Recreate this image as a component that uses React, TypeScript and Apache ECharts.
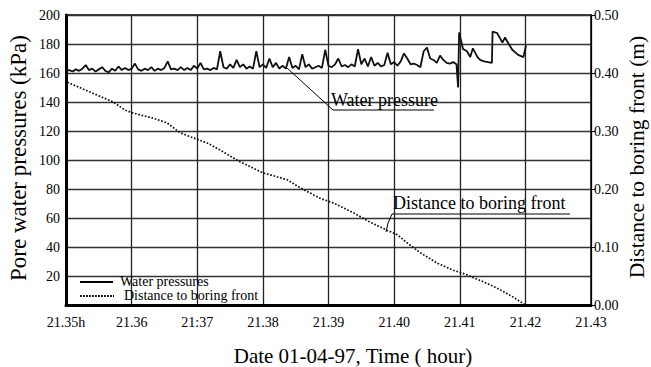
import React, { useEffect, useRef } from "react";
import * as echarts from "echarts";

// X tick labels (hours), as printed on the original figure
const xTickLabels = ["21.35h", "21.36", "21:37", "21.38", "21.39", "21.40", "21.41", "21.42", "21.43"];

// Water pressure (kPa), sampled every 0.0005 h from 21.35 h
const pressureStart = 21.35;
const pressureStep = 0.0005;
const pressureValues = [
  161.5, 162, 161, 162.5, 161.5, 163, 165.5, 162, 163, 161,
  162.5, 164, 161.5, 160.5, 163, 161.5, 164.5, 162, 163.5, 162,
  163, 166.5, 162.5, 161.5, 163, 162, 164, 161.5, 163, 162,
  163.5, 168, 162.5, 163, 162, 164, 162, 163.5, 162, 165,
  163, 167, 162.5, 163, 162, 163.5, 162.5, 175, 164, 163,
  166, 163.5, 169, 164, 166, 163, 164.5, 163, 175, 164,
  166, 163.5, 170, 164, 167, 163, 165, 163, 171, 163.5,
  165, 162.5, 173, 164, 166, 163, 164, 165, 163.5, 176,
  165, 164, 166, 170, 164.5, 165.5, 164, 166, 164.5, 176.5,
  166, 170, 164.5, 171, 165, 167, 164.5, 165.5, 174, 166,
  167.5, 165, 168, 173.5, 170, 166, 166.5, 165.5, 164, 175,
  177.5, 170, 169, 167, 172, 169, 167, 166.5, 167.5, 166,
];
// Water pressure after the jump near 21.41 h (irregular sampling)
const pressureTailTimes = [
  21.40975, 21.4099, 21.4105, 21.4111, 21.4116, 21.412, 21.4127, 21.4131, 21.4137, 21.4143,
  21.4149, 21.415, 21.4157, 21.4165, 21.4169, 21.4174, 21.418, 21.4189, 21.4197, 21.4201,
];
const pressureTailValues = [
  150, 188, 176.5, 175, 171, 177, 171, 169, 168, 167.5,
  167, 188.5, 187.5, 181, 184.5, 180.5, 176, 172.5, 171, 179,
];

// Distance to boring front (m)
const distanceTimes = [
  21.3502, 21.3537, 21.3572, 21.359, 21.3602, 21.3633, 21.3654, 21.3674, 21.3694, 21.3716,
  21.3735, 21.3765, 21.38, 21.3837, 21.3857, 21.3887, 21.3907, 21.3938, 21.3963, 21.3989,
  21.4005, 21.402, 21.404, 21.4066, 21.409, 21.4111, 21.4136, 21.4157, 21.4181, 21.42,
];
const distanceValues = [
  0.384, 0.367, 0.35, 0.336, 0.331, 0.322, 0.314, 0.297, 0.288, 0.279,
  0.267, 0.247, 0.228, 0.216, 0.202, 0.184, 0.176, 0.159, 0.143, 0.129,
  0.121, 0.107, 0.09, 0.072, 0.06, 0.052, 0.04, 0.029, 0.014, 0.0,
];

const seriesNames = ["Water pressures", "Distance to boring front"];

const SERIF = "Liberation Serif";

export default function App() {
  const ref = useRef<HTMLDivElement>(null);

  useEffect(() => {
    if (!ref.current) return;
    const chart = echarts.init(ref.current, undefined, { renderer: "svg" });

    const pressureData: [number, number][] = pressureValues.map((v, i) => [
      pressureStart + i * pressureStep,
      v,
    ]);
    pressureTailTimes.forEach((t, i) => pressureData.push([t, pressureTailValues[i]]));
    const distanceData = distanceTimes.map((t, i) => [t, distanceValues[i]]);

    chart.setOption({
      animation: false,
      backgroundColor: "#fff",
      grid: {
        left: 66,
        right: 60,
        top: 15,
        bottom: 62,
        show: true,
        borderColor: "#000",
        borderWidth: 1.5,
        backgroundColor: "transparent",
      },
      xAxis: {
        type: "value",
        min: 21.35,
        max: 21.43,
        interval: 0.01,
        axisLine: { show: true, lineStyle: { color: "#000", width: 3 } },
        axisTick: { show: false },
        splitLine: { show: true, lineStyle: { color: "#222", width: 1.3 } },
        axisLabel: {
          fontFamily: SERIF,
          fontSize: 14,
          color: "#000",
          margin: 10,
          formatter: (v: number) => {
            const idx = Math.round((v - 21.35) / 0.01);
            return xTickLabels[idx] ?? "";
          },
        },
      },
      yAxis: [
        {
          type: "value",
          min: 0,
          max: 200,
          interval: 20,
          position: "left",
          axisLine: { show: true, lineStyle: { color: "#000", width: 3 } },
          axisTick: { show: false },
          splitLine: { show: true, lineStyle: { color: "#333", width: 1.3 } },
          axisLabel: {
            fontFamily: SERIF,
            fontSize: 14,
            color: "#000",
            margin: 6,
            formatter: (v: number) => (v === 0 ? "" : String(v)),
          },
        },
        {
          type: "value",
          min: 0,
          max: 0.5,
          interval: 0.1,
          position: "right",
          axisLine: { show: true, lineStyle: { color: "#000", width: 1 } },
          axisTick: { show: true, length: 4, lineStyle: { color: "#000" } },
          splitLine: { show: false },
          axisLabel: {
            fontFamily: SERIF,
            fontSize: 14,
            color: "#000",
            margin: 3,
            formatter: (v: number) => v.toFixed(2),
          },
        },
      ],
      series: [
        {
          name: seriesNames[0],
          type: "line",
          yAxisIndex: 0,
          data: pressureData,
          symbol: "none",
          lineStyle: { color: "#111", width: 1.8 },
          itemStyle: { color: "#111" },
          z: 3,
        },
        {
          name: seriesNames[1],
          type: "line",
          yAxisIndex: 1,
          data: distanceData,
          symbol: "none",
          lineStyle: { color: "#111", width: 1.7, type: "dotted" },
          itemStyle: { color: "#111" },
          z: 3,
        },
      ],
      graphic: [
        {
          type: "text",
          x: 18,
          y: 158,
          rotation: Math.PI / 2,
          style: {
            text: "Pore water pressures (kPa)",
            font: `23px ${SERIF}`,
            fill: "#000",
            align: "center",
            verticalAlign: "middle",
          },
        },
        {
          type: "text",
          x: 637,
          y: 157,
          rotation: Math.PI / 2,
          style: {
            text: "Distance to boring front (m)",
            font: `21.5px ${SERIF}`,
            fill: "#000",
            align: "center",
            verticalAlign: "middle",
          },
        },
        {
          type: "text",
          x: 353,
          y: 356,
          style: {
            text: "Date 01-04-97, Time ( hour)",
            font: `21px ${SERIF}`,
            fill: "#000",
            align: "center",
            verticalAlign: "middle",
          },
        },
        // legend (drawn in the plot's lower-left corner)
        {
          type: "line",
          shape: { x1: 80, y1: 282, x2: 113, y2: 282 },
          style: { stroke: "#000", lineWidth: 2 },
          z: 10,
        },
        {
          type: "text",
          x: 120,
          y: 281,
          style: {
            text: seriesNames[0],
            font: `14px ${SERIF}`,
            fill: "#000",
            align: "left",
            verticalAlign: "middle",
          },
          z: 10,
        },
        {
          type: "line",
          shape: { x1: 80, y1: 296, x2: 114, y2: 296 },
          style: { stroke: "#000", lineWidth: 1.8, lineDash: [1.8, 1.2] },
          z: 10,
        },
        {
          type: "text",
          x: 124,
          y: 295,
          style: {
            text: seriesNames[1],
            font: `14px ${SERIF}`,
            fill: "#000",
            align: "left",
            verticalAlign: "middle",
          },
          z: 10,
        },
        // annotations
        {
          type: "polyline",
          shape: { points: [[287, 68], [333, 110], [434, 110]] },
          style: { stroke: "#000", lineWidth: 1, fill: "none" },
          z: 10,
        },
        {
          type: "text",
          x: 331,
          y: 100,
          style: {
            text: "Water pressure",
            font: `18px ${SERIF}`,
            fill: "#000",
            align: "left",
            verticalAlign: "middle",
          },
          z: 10,
        },
        {
          type: "polyline",
          shape: { points: [[386, 232], [388, 223], [392, 214], [570, 214]] },
          style: { stroke: "#000", lineWidth: 1, fill: "none" },
          z: 10,
        },
        {
          type: "text",
          x: 393,
          y: 203,
          style: {
            text: "Distance to boring front",
            font: `18px ${SERIF}`,
            fill: "#000",
            align: "left",
            verticalAlign: "middle",
          },
          z: 10,
        },
      ],
    });

    return () => chart.dispose();
  }, []);

  return (
    <div
      ref={ref}
      style={{ position: "absolute", left: 0, top: 0, width: 651, height: 367, background: "#fff" }}
    />
  );
}
